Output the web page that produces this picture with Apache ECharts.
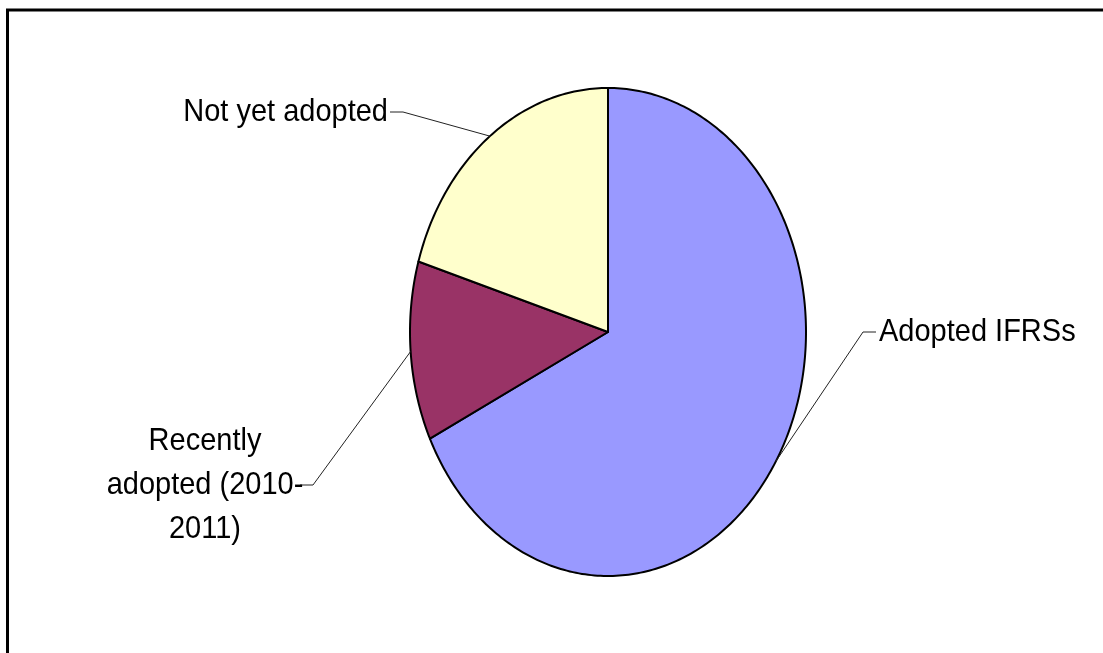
<!DOCTYPE html>
<html><head><meta charset="utf-8">
<script src="https://cdn.jsdelivr.net/npm/echarts@6/dist/echarts.min.js"></script>
<style>html,body{margin:0;padding:0;background:#fff}#c{width:1103px;height:653px}</style>
</head><body><div id="c"></div>
<script>
// Data
const categories = ['Adopted IFRSs', 'Recently\nadopted (2010-\n2011)', 'Not yet adopted'];
const values = [40, 7, 12];
const colors = ['#9999FF', '#993366', '#FFFFCC'];

// Layout (ellipse = vertically stretched pie)
const CX = 608, CY = 332, RX = 198, RY = 244;
const TEXT_SCALE_Y = 1.08;
const labelLayout = [
  { elbow: [863, 332], end: [876, 332], tx: 879, ty: 332, align: 'left' },
  { elbow: [313, 485], end: [300, 485], tx: 205, ty: 485, align: 'center' },
  { elbow: [403, 112], end: [390, 112], tx: 388, ty: 112, align: 'right' }
];

const total = values.reduce((a, b) => a + b, 0);
function pt(theta, k) { k = k || 1; return [CX + RX * k * Math.sin(theta), CY - RY * k * Math.cos(theta)]; }

const chart = echarts.init(document.getElementById('c'), null, { renderer: 'canvas' });
chart.setOption({
  animation: false,
  backgroundColor: '#fff',
  graphic: [{
    type: 'rect', z: 100,
    shape: { x: 7.5, y: 10, width: 1200, height: 800 },
    style: { fill: 'none', stroke: '#000', lineWidth: 3 }
  }],
  series: [{
    type: 'custom',
    coordinateSystem: 'none',
    data: values.map((v, i) => ({ value: v, name: categories[i] })),
    renderItem: function (params, api) {
      const i = params.dataIndex;
      let before = 0;
      for (let j = 0; j < i; j++) before += values[j];
      const a0 = before / total * Math.PI * 2;
      const a1 = (before + values[i]) / total * Math.PI * 2;
      const n = Math.max(8, Math.ceil((a1 - a0) / (Math.PI * 2) * 400));
      const pts = [[CX, CY]];
      for (let s = 0; s <= n; s++) pts.push(pt(a0 + (a1 - a0) * s / n));
      const mid = (a0 + a1) / 2;
      const anchor = pt(mid);
      const L = labelLayout[i];
      return {
        type: 'group',
        children: [
          { type: 'polygon', shape: { points: pts },
            style: { fill: colors[i], stroke: '#000', lineWidth: 2, lineJoin: 'round' } },
          { type: 'polyline', z2: 5, shape: { points: [anchor, L.elbow, L.end] },
            style: { fill: 'none', stroke: '#222', lineWidth: 1 } },
          { type: 'text', z2: 6, x: L.tx, y: L.ty, scaleY: TEXT_SCALE_Y,
            style: { text: categories[i], x: 0, y: 0, fill: '#000',
              fontSize: 29, fontFamily: '"Liberation Sans", Arial, sans-serif',
              align: L.align, verticalAlign: 'middle', lineHeight: 44 / TEXT_SCALE_Y } }
        ]
      };
    }
  }]
});
</script>
</body></html>
